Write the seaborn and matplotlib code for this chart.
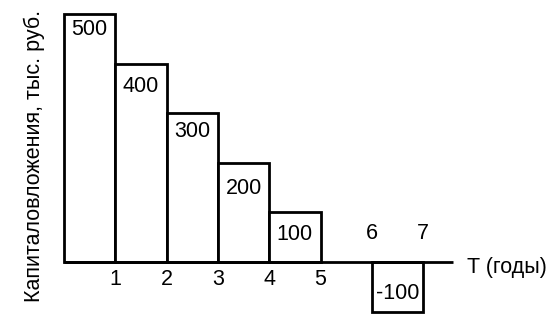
import matplotlib
matplotlib.use("Agg")
import matplotlib.pyplot as plt
import seaborn as sns
import pandas as pd

# Data
year_start = [0, 1, 2, 3, 4, 6]
investments = [500, 400, 300, 200, 100, -100]
bar_labels = ["500", "400", "300", "200", "100", "-100"]
tick_labels_below = ["1", "2", "3", "4", "5"]
tick_labels_above = ["6", "7"]
ylabel = "Капиталовложения, тыс. руб."
xlabel = "T (годы)"

sns.set_theme(style="white")
plt.rcParams["font.family"] = ["Liberation Sans", "DejaVu Sans"]

df = pd.DataFrame({"x": [s + 0.5 for s in year_start], "y": investments})

fig = plt.figure(figsize=(5.53, 3.29), dpi=100)
ax = fig.add_axes([0, 0, 1, 1])
sns.barplot(data=df, x="x", y="y", native_scale=True, width=1, color="white",
            saturation=1, edgecolor="black", linewidth=2, errorbar=None, ax=ax)

# x axis line
ax.plot([0, 7.58], [0, 0], color="black", lw=2, solid_capstyle="butt", zorder=5)

ax.set_xlim(-1.248, 9.53)
ax.set_ylim(-135, 528)
ax.axis("off")

fs = 15.5
# bar value labels (offset below top for positive, inside for negative)
label_offsets = [-31, -47, -38, -51, -44, 37]
for s, v, lab, off in zip(year_start, investments, bar_labels, label_offsets):
    ax.text(s + 0.5, v + off, lab, ha="center", va="center", fontsize=fs, color="black")

for i, lab in enumerate(tick_labels_below):
    ax.text(i + 1, -36, lab, ha="center", va="center", fontsize=fs, color="black")
for i, lab in enumerate(tick_labels_above):
    ax.text(i + 6, 58, lab, ha="center", va="center", fontsize=fs, color="black")

ax.text(7.85, -12, xlabel, ha="left", va="center", fontsize=fs, color="black")
ax.text(-0.57, 214, ylabel, ha="center", va="center", rotation=90, fontsize=fs, color="black")

fig.savefig("out.png", dpi=100)
